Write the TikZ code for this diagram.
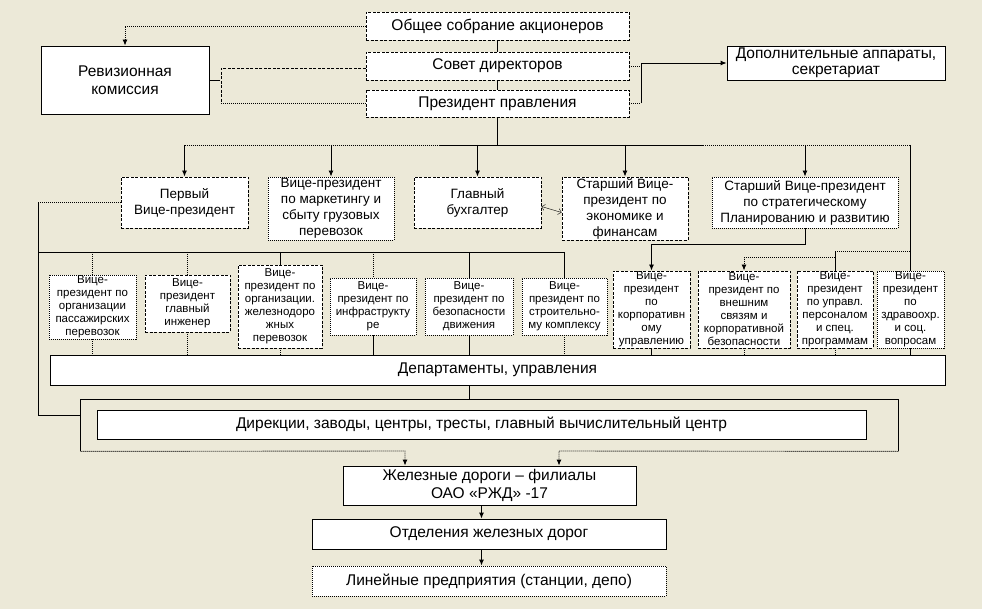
\documentclass[tikz,border=0pt]{standalone}
\usepackage{fontspec}
\setmainfont{Liberation Sans}
\usepackage{tikz}
\usetikzlibrary{arrows.meta, calc}
\definecolor{bg}{RGB}{236,233,216}
\tikzset{
    box/.style={draw, fill=white, align=center, inner sep=0pt, font=\fontsize{15.5}{18}\selectfont},
    mid/.style={box, font=\fontsize{13.5}{16}\selectfont},
    small/.style={box, font=\fontsize{11.5}{13}\selectfont},
    sz/.style 2 args={minimum width=#1, minimum height=#2},
    dsh/.style={dash pattern=on 3pt off 1.5pt},
    dts/.style={dash pattern=on 1pt off 1pt},
    arr/.style={-{Latex[length=6pt,width=5pt]}}
}

\begin{document}
\begin{tikzpicture}[x=1pt, y=-1pt, line width=0.9pt]
        \fill[bg] (0,0) rectangle (982,609);
        \useasboundingbox (0,0) rectangle (982,609);

        \node[box, dsh, sz={263}{28}] (obs) at (497.5,26) {Общее собрание акционеров};
        \node[box, dsh, sz={263}{28}] (sov) at (497.5,66) {Совет директоров};
        \node[box, dsh, sz={263}{27}] (pres) at (497.5,103.5) {Президент правления};
        \node[box, sz={168}{68}] (rev) at (125,80) {Ревизионная\\комиссия};
        \node[box, sz={218}{34}, font=\fontsize{15.5}{16.5}\selectfont] (dop) at (836,63) {Дополнительные аппараты,\\секретариат};

        \node[mid, dsh, sz={127}{51}] (vp1) at (184.5,202.5) {Первый\\Вице-президент};
        \node[mid, dts, sz={126}{63}] (vpm) at (331,208.5) {Вице-президент\\по маркетингу и\\сбыту грузовых\\перевозок};
        \node[mid, dsh, sz={127}{51}] (buh) at (477.5,202.5) {Главный\\бухгалтер};
        \node[mid, dsh, sz={126}{63}] (vpe) at (625,208.5) {Старший Вице-\\президент по\\экономике и\\финансам};
        \node[mid, dts, sz={186}{51}] (vps) at (805,202.5) {Старший Вице-президент\\по стратегическому\\Планированию и развитию};

        \node[small, dts, sz={87}{64}] (pas) at (92.5,307) {Вице-\\президент по\\организации\\пассажирских\\перевозок};
        \node[small, dsh, sz={85}{57}] (ing) at (187.5,303.5) {Вице-\\президент\\главный\\инженер};
        \node[small, dsh, sz={84}{83}] (zhd) at (280,306.5) {Вице-\\президент по\\организации.\\железнодоро\\жных\\перевозок};
        \node[small, dts, sz={86}{57}] (inf) at (373,306.5) {Вице-\\президент по\\инфраструкту\\ре};
        \node[small, dts, sz={88}{57}] (bez) at (469,306.5) {Вице-\\президент по\\безопасности\\движения};
        \node[small, dts, sz={85}{57}] (str) at (564.5,306.5) {Вице-\\президент по\\строительно-\\му комплексу};
        \node[small, dsh, sz={77}{77}] (kor) at (651.5,309.5) {Вице-\\президент\\по\\корпоративн\\ому\\управлению};
        \node[small, dsh, sz={92}{77}] (vne) at (744,309.5) {Вице-\\президент по\\внешним\\связям и\\корпоративной\\безопасности};
        \node[small, dsh, sz={76}{77}] (per) at (835,309.5) {Вице-\\президент\\по управл.\\персоналом\\и спец.\\программам};
        \node[small, dts, sz={67}{77}] (zdr) at (910.5,309.5) {Вице-\\президент\\по\\здравоохр.\\и соц.\\вопросам};

        \node[box, sz={895}{30}] (dep) at (497.5,370) {Департаменты, управления};
        \node[sz={817}{51}, inner sep=0pt] (fr) at (489.5,425.5) {};
        \node[box, sz={769}{29}] (dir) at (481.5,424.5) {Дирекции, заводы, центры, тресты, главный вычислительный центр};
        \node[box, sz={293}{39}] (zd) at (489.5,485.5) {Железные дороги – филиалы\\ОАО «РЖД» -17};
        \node[box, sz={354}{30}] (otd) at (489,534) {Отделения железных дорог};
        \node[box, dts, sz={354}{30}] (lin) at (489,581) {Линейные предприятия (станции, депо)};

        \coordinate (busL) at (184.5,145);
        \coordinate (busA) at (440,145);
        \coordinate (busB) at (703,145);
        \coordinate (busR) at (910.5,145);
        \coordinate (lft) at (38,252);
        \coordinate (jn) at (641,63);
        \coordinate (rj) at (221,68);
        \coordinate (fa) at (405,451);
        \coordinate (fb) at (559,451);

        \draw[dts, arr] (obs.west) -| (rev.north);
        \draw (obs.south) -- (sov.north);
        \draw (sov.south) -- (pres.north);
        \draw (pres.south) -- (pres.south |- busL);
        \draw[dts] (busL) -- (busA);
        \draw (busA) -- (busB);
        \draw[dts] (busB) -- (busR);
        \foreach \n in {vp1,vpm,buh,vpe,vps} {
            \draw[arr] (\n.north |- busL) -- (\n.north);
        }
        \draw (busR) -- (zdr.north);
        \draw (per.north) -- ++(0,-19) coordinate (pj);
        \draw[dts] (pj) -- (pj -| zdr.north);
        \draw[dts, arr] ($(per.north)+(0,-13)$) -| (vne.north);
        \draw[arr] (vps.south) -- ++(0,16) -| (kor.north);

        \draw[dts] (sov.east) -- (sov.east -| jn);
        \draw[dts] (pres.east) -- (pres.east -| jn);
        \draw (pres.east -| jn) -- (jn);
        \draw[arr] (jn) -- (dop.west);
        \draw (rev.east) -- ++(11,0);
        \draw[dsh] (sov.west |- rj) -- (rj) -- (rj |- pres.west);
        \draw[dts] (rj |- pres.west) -- (pres.west);
        \draw[thin, {Straight Barb[length=3pt]}-{Straight Barb[length=3pt]}] ($(buh.east)+(0,4)$) -- ($(vpe.west)+(0,4)$);

        \draw[dts] (vp1.west) -- (vp1.west -| lft);
        \draw (vp1.west -| lft) |- ($(fr.west)+(0,-10)$);
        \draw (lft) -- (lft -| str.north);
        \foreach \n in {pas,ing,inf} {
            \draw[dts] (lft -| \n.north) -- (\n.north);
        }
        \foreach \n in {zhd,bez,str} {
            \draw (lft -| \n.north) -- (\n.north);
        }
        \foreach \n in {pas,ing,zhd,str,vne,per} {
            \draw[dts] (\n.south) -- (\n.south |- dep.north);
        }
        \foreach \n in {inf,bez,kor,zdr} {
            \draw (\n.south) -- (\n.south |- dep.north);
        }
        \draw (bez.south |- dep.south) -- (bez.south |- fr.north);

        \draw (fr.south west) -- (fr.north west) -- (fr.north east) -- (fr.south east);
        \draw[dts, arr] (fr.south west) -- (fa) -- (fa |- zd.north);
        \draw[dts, arr] (fr.south east) -- (fb) -- (fb |- zd.north);
        \draw[arr] (zd.south -| dir) -- (otd.north -| dir);
        \draw[arr] (otd.south -| dir) -- (lin.north -| dir);
    \end{tikzpicture}
\end{document}
